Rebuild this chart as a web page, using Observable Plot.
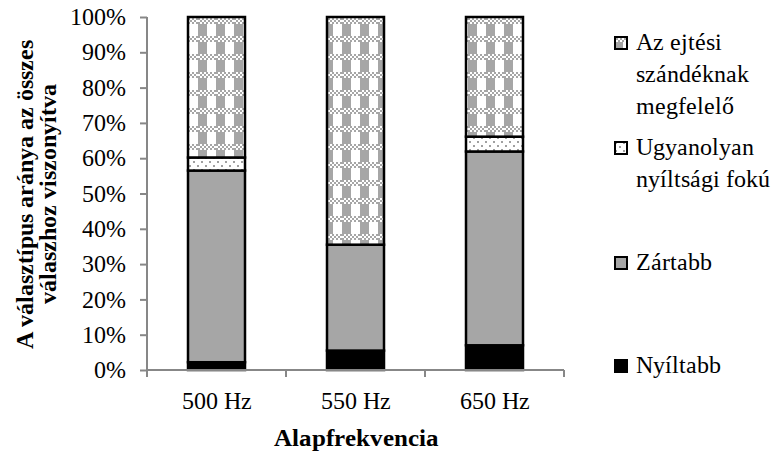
<!DOCTYPE html>
<html lang="hu">
<head>
<meta charset="utf-8">
<script src="https://cdn.jsdelivr.net/npm/d3@7"></script>
<script src="https://cdn.jsdelivr.net/npm/@observablehq/plot@0.6"></script>
<style>
  @font-face { font-family: "ChartSerif"; font-weight: 400; src: local("Liberation Serif"), local("LiberationSerif"), local("Liberation Serif Regular"); }
  @font-face { font-family: "ChartSerif"; font-weight: 700; src: local("Liberation Serif Bold"), local("LiberationSerif-Bold"); }
  body { margin: 0; }
  .chart { position: relative; width: 778px; height: 455px; font-family: ChartSerif, 'Liberation Serif', serif; }
  .chart > svg { position: absolute; left: 0; top: 0; }
  .item { position: absolute; left: 614px; display: flex; align-items: flex-start; font-size: 24px; line-height: 32px; white-space: nowrap; }
  .item svg { flex: none; margin-top: 10px; margin-right: 8px; }
</style>
</head>
<body style="font-family:'Liberation Serif'">
<div id="chart" class="chart"></div>
<script>
// Fundamental frequency conditions
const categories = ["500 Hz", "550 Hz", "650 Hz"];
// Response types, bottom of the stack first
const series = ["Nyíltabb", "Zártabb", "Ugyanolyan nyíltsági fokú", "Az ejtési szándéknak megfelelő"];
// Share of each response type (%) per condition
const nyiltabb   = [2.2, 5.5, 7.0];
const zartabb    = [54.3, 30.0, 54.9];
const ugyanolyan = [3.7, 0.0, 4.2];
const ejtesi     = [39.8, 64.5, 33.9];
// Y axis tick values (%)
const yTicks = [0, 10, 20, 30, 40, 50, 60, 70, 80, 90, 100];
// Legend entries, top to bottom, with their line breaks
const legendLines = [
  ["Az ejtési", "szándéknak", "megfelelő"],
  ["Ugyanolyan", "nyíltsági fokú"],
  ["Zártabb"],
  ["Nyíltabb"]
];
const legendSeries = ["Az ejtési szándéknak megfelelő", "Ugyanolyan nyíltsági fokú", "Zártabb", "Nyíltabb"];
const yTitle = "A választípus aránya az összes\nválaszhoz viszonyítva";
const xTitle = "Alapfrekvencia";

const seriesValues = [nyiltabb, zartabb, ugyanolyan, ejtesi];
const rows = categories.flatMap((c, i) =>
  series.map((s, j) => ({category: c, series: s, value: seriesValues[j][i]}))
);

// Fill for each series: solid black, solid gray, dotted, checkered
const fills = ["#000000", "#a6a6a6", "url(#dots)", "url(#checker)"];
const fillOf = new Map(series.map((s, i) => [s, fills[i]]));

const axisGray = "#878787";
const serifStack = "ChartSerif, 'Liberation Serif', serif";

// Axis lines plus category boundary ticks, positioned from the plot scales
function axisFrame(index, scales) {
  const sx = scales.x, sy = scales.y;
  const bw = typeof sx.bandwidth === "function" ? sx.bandwidth() : sx.bandwidth;
  const x0 = sx(categories[0]);
  const x1 = sx(categories[categories.length - 1]) + bw;
  const yb = sy(0), yt = sy(100);
  const g = d3.create("svg:g").attr("stroke", axisGray).attr("stroke-width", 2).attr("fill", "none");
  g.append("line").attr("x1", x0).attr("x2", x0).attr("y1", yt).attr("y2", yb);
  g.append("line").attr("x1", x0).attr("x2", x1).attr("y1", yb).attr("y2", yb);
  const bounds = categories.map(c => sx(c)).concat([x1]);
  for (const bx of bounds) {
    g.append("line").attr("x1", bx).attr("x2", bx).attr("y1", yb).attr("y2", yb + 7);
  }
  return g.node();
}

const plot = Plot.plot({
  width: 778,
  height: 455,
  marginLeft: 147,
  marginRight: 214,
  marginTop: 17,
  marginBottom: 85,
  style: {fontFamily: serifStack, fontSize: "24px"},
  x: {domain: categories, padding: 0, label: null},
  y: {domain: [0, 100], label: null},
  color: {domain: series, range: fills},
  marks: [
    Plot.barY(rows, Plot.stackY({
      x: "category",
      y: "value",
      fill: "series",
      order: series,
      stroke: "#000",
      strokeWidth: 2.5,
      insetLeft: 41,
      insetRight: 41
    })),
    axisFrame,
    Plot.axisY({ticks: yTicks, tickSize: 7, tickPadding: 15, tickFormat: d => d + "%", stroke: axisGray, strokeWidth: 2, fill: "#000", label: null, fontFamily: serifStack}),
    Plot.axisX({tickSize: 0, tickPadding: 21, label: null, fill: "#000", fontFamily: serifStack}),
    Plot.text([yTitle], {text: d => d, frameAnchor: "left", dx: -110, rotate: -90, fontFamily: serifStack, fontWeight: "bold", fontSize: 24, lineHeight: 0.96, lineAnchor: "middle", textAnchor: "middle"}),
    Plot.text([xTitle], {text: d => d, frameAnchor: "bottom", dy: 67, fontFamily: serifStack, fontWeight: "bold", fontSize: 25, lineAnchor: "middle"})
  ]
});

// Fill patterns used by the bars and the legend swatches
const defs = d3.select(plot).insert("defs", ":first-child");
const chk = defs.append("pattern").attr("id", "checker").attr("patternUnits", "userSpaceOnUse").attr("width", 18).attr("height", 18);
chk.append("rect").attr("width", 18).attr("height", 18).attr("fill", "#fff");
for (let px = 0; px < 18; px += 2) {
  for (let py = 0; py < 6; py += 2) {
    if (((px + py) / 2) % 2 === 0) chk.append("rect").attr("x", px).attr("y", py).attr("width", 2).attr("height", 2).attr("fill", "#a6a6a6");
  }
}
chk.append("rect").attr("x", 0).attr("y", 6).attr("width", 9).attr("height", 12).attr("fill", "#a6a6a6");
const dots = defs.append("pattern").attr("id", "dots").attr("patternUnits", "userSpaceOnUse").attr("width", 8).attr("height", 8);
dots.append("rect").attr("width", 8).attr("height", 8).attr("fill", "#fff");
dots.append("rect").attr("x", 1).attr("y", 1).attr("width", 2).attr("height", 2).attr("fill", "#a0a0a0");
dots.append("rect").attr("x", 5).attr("y", 5).attr("width", 2).attr("height", 2).attr("fill", "#a0a0a0");

const chart = document.getElementById("chart");
chart.appendChild(plot);

// Legend on the right
const legendTops = [26, 131, 246, 349];
legendSeries.forEach((s, i) => {
  const item = document.createElement("div");
  item.className = "item";
  item.style.top = legendTops[i] + "px";
  const sw = d3.create("svg").attr("width", 14).attr("height", 14);
  sw.append("rect").attr("x", 1).attr("y", 1).attr("width", 12).attr("height", 12)
    .attr("fill", fillOf.get(s)).attr("stroke", "#000").attr("stroke-width", 2);
  item.appendChild(sw.node());
  const label = document.createElement("div");
  label.innerHTML = legendLines[i].join("<br>");
  item.appendChild(label);
  chart.appendChild(item);
});
</script>
</body>
</html>
